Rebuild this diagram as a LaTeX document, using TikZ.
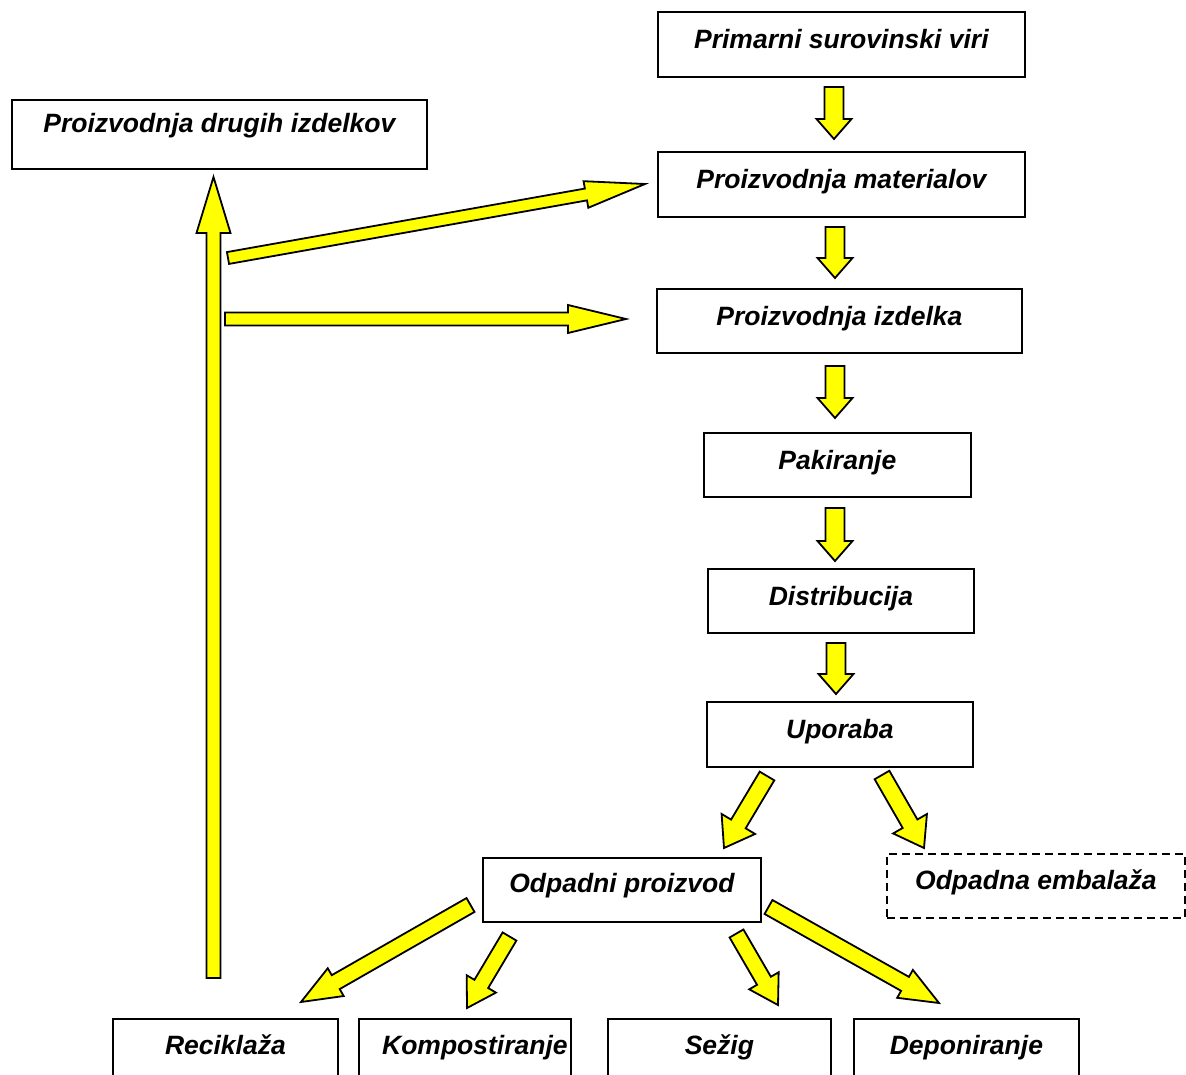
\documentclass[tikz,border=0pt]{standalone}
\usepackage{fontspec}
\setmainfont{Liberation Sans}
\usetikzlibrary{calc}

% Block arrow from #1 (tail) to #2 (tip): shaft half width #3,
% head half width #4, head length #5
\newcommand{\blockarrow}[5]{%
  \path ($(#2)!#5!(#1)$) coordinate (ba-h);
  \draw[arrowfill]
    ($(#1)!#3!90:(#2)$) -- ($(ba-h)!#3!-90:(#1)$) -- ($(ba-h)!#4!-90:(#1)$)
    -- (#2) -- ($(ba-h)!#4!90:(#1)$) -- ($(ba-h)!#3!90:(#1)$)
    -- ($(#1)!#3!-90:(#2)$) -- cycle;
}

\definecolor{arrowyellow}{RGB}{255,255,0}

\tikzset{
  box/.style={draw=black, line width=1.8pt, fill=white, anchor=north west,
    inner xsep=0pt, inner ysep=0pt, text height=37pt,
    font=\fontsize{26.5}{30}\selectfont\bfseries\itshape},
  dashedbox/.style={box, dash pattern=on 8pt off 5pt},
  arrowfill/.style={draw=black, line width=1.8pt, fill=arrowyellow, line join=miter},
}

\begin{document}
\begin{tikzpicture}[x=1pt, y=-1pt]
\clip (0,0) rectangle (1186,1075);
\fill[white] (0,0) rectangle (1186,1075);

% process chain
\node[box, minimum width=367pt, minimum height=65pt, text depth=28pt] (primary) at (657,11) {Primarni surovinski viri};
\node[box, minimum width=415pt, minimum height=69pt, text height=33pt, text depth=36pt] (other) at (11,99) {Proizvodnja drugih izdelkov};
\node[box, minimum width=367pt, minimum height=65pt, text depth=28pt] (material) at (657,151) {Proizvodnja materialov};
\node[box, minimum width=365pt, minimum height=64pt, text depth=27pt] (product) at (656,288) {Proizvodnja izdelka};
\node[box, minimum width=267pt, minimum height=64pt, text depth=27pt] (packing) at (703,432) {Pakiranje};
\node[box, minimum width=266pt, minimum height=64pt, text depth=27pt] (distrib) at (707,568) {Distribucija};
\node[box, minimum width=266pt, minimum height=65pt, text depth=28pt] (use) at (706,701) {Uporaba};
\node[box, minimum width=278pt, minimum height=64pt, text height=35pt, text depth=29pt] (waste) at (482,857) {Odpadni proizvod};
\node[dashedbox, minimum width=298pt, minimum height=64pt, text height=36pt, text depth=28pt] (pack) at (886,853) {Odpadna embalaža};

% end-of-life options
\node[box, minimum width=225pt, minimum height=80pt, text height=36pt, text depth=44pt] (recycle) at (112,1018) {Reciklaža};
\node[box, minimum width=212pt, minimum height=80pt, text height=36pt, text depth=44pt] (compost) at (358,1018) {\hspace*{20pt}Kompostiranje};
\node[box, minimum width=223pt, minimum height=80pt, text height=36pt, text depth=44pt] (burn) at (607,1018) {Sežig};
\node[box, minimum width=225pt, minimum height=80pt, text height=36pt, text depth=44pt] (landfill) at (853,1018) {Deponiranje};

% arrow end points
\coordinate (a1s) at (834,87);   \coordinate (a1e) at (834,139);
\coordinate (a2s) at (835,227);  \coordinate (a2e) at (835,278);
\coordinate (a3s) at (835,366);  \coordinate (a3e) at (835,418);
\coordinate (a4s) at (835,508);  \coordinate (a4e) at (835,561);
\coordinate (a5s) at (836,643);  \coordinate (a5e) at (836,694);
\coordinate (upS) at (213.5,978); \coordinate (upE) at (213.5,177);
\coordinate (mS) at (228,258);   \coordinate (mE) at (645,184);
\coordinate (pS) at (225,319);   \coordinate (pE) at (626,319);
\coordinate (uwS) at (767,776);  \coordinate (uwE) at (724,848);
\coordinate (upkS) at (882,775); \coordinate (upkE) at (924,848);
\coordinate (rS) at (470.5,905); \coordinate (rE) at (301,1002);
\coordinate (cS) at (509.5,936.5); \coordinate (cE) at (467,1008);
\coordinate (bS) at (736.5,933.5); \coordinate (bE) at (778,1005);
\coordinate (lS) at (768.5,907); \coordinate (lE) at (939,1003);

% downward chain
\blockarrow{a1s}{a1e}{9.5pt}{17.5pt}{20pt}
\blockarrow{a2s}{a2e}{9.5pt}{17.5pt}{20pt}
\blockarrow{a3s}{a3e}{9.5pt}{17.5pt}{20pt}
\blockarrow{a4s}{a4e}{9.5pt}{17.5pt}{20pt}
\blockarrow{a5s}{a5e}{9.5pt}{17.5pt}{20pt}

% recycling loop
\blockarrow{upS}{upE}{7pt}{17pt}{56pt}
\blockarrow{mS}{mE}{6pt}{13.5pt}{60pt}
\blockarrow{pS}{pE}{6.5pt}{14pt}{58pt}

% after use
\blockarrow{uwS}{uwE}{8.5pt}{19.5pt}{28pt}
\blockarrow{upkS}{upkE}{8.5pt}{19.5pt}{28pt}

% waste treatment
\blockarrow{rS}{rE}{8pt}{16pt}{40pt}
\blockarrow{cS}{cE}{8pt}{17pt}{28pt}
\blockarrow{bS}{bE}{8pt}{17pt}{28pt}
\blockarrow{lS}{lE}{8pt}{16pt}{39pt}
\end{tikzpicture}
\end{document}
